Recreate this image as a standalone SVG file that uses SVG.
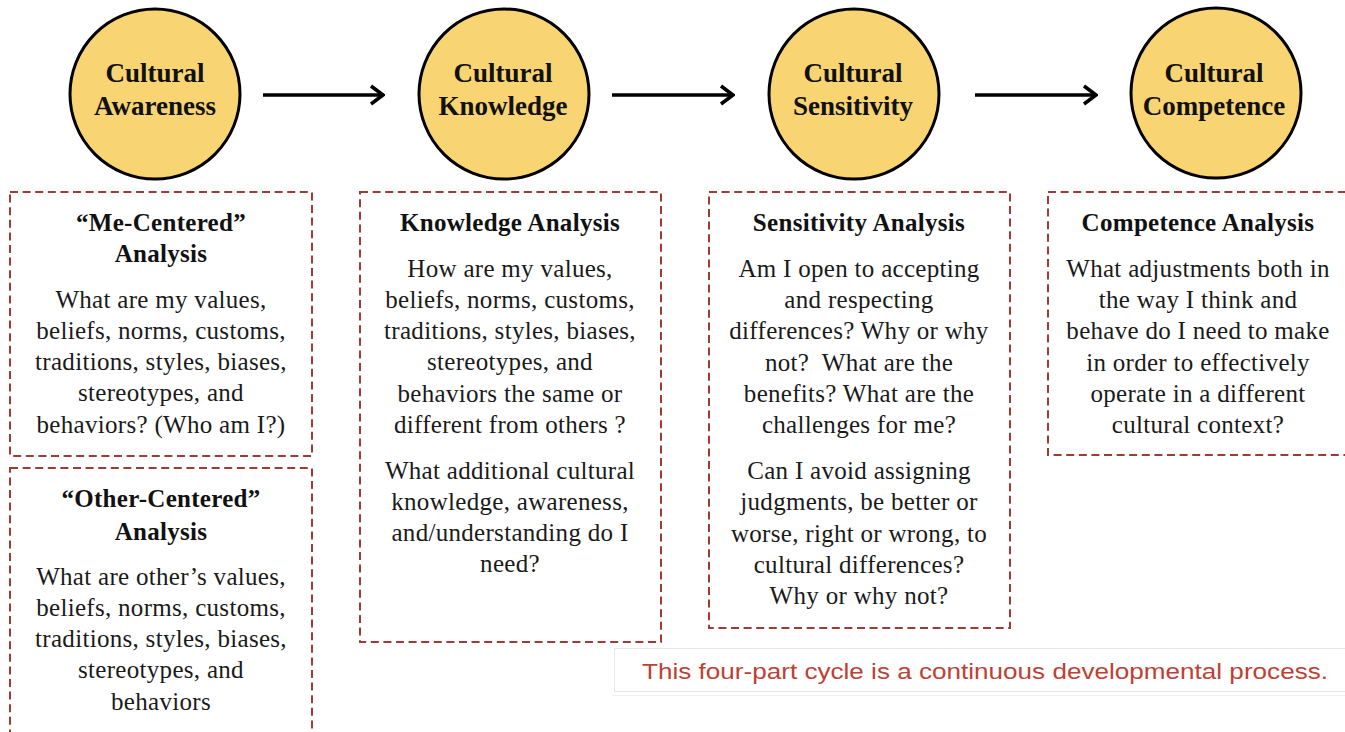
<svg xmlns="http://www.w3.org/2000/svg" width="1345" height="732" viewBox="0 0 1345 732">
<style>
.circ{fill:#F8D572;stroke:#000;stroke-width:3}
.ctext{font-family:"Liberation Serif","Times New Roman",serif;font-weight:bold;font-size:27px;fill:#111;text-anchor:middle}
.box{fill:none;stroke:#9E3B36;stroke-width:2;stroke-dasharray:8 4.6}
.hd{font-family:"Liberation Serif","Times New Roman",serif;font-weight:bold;font-size:25px;letter-spacing:0.3px;fill:#111;text-anchor:middle}
.bd{font-family:"Liberation Serif","Times New Roman",serif;font-size:25px;letter-spacing:0.3px;fill:#1a1a1a;text-anchor:middle}
.arrow{fill:none;stroke:#000;stroke-width:3.5;marker-end:url(#head)}
.note{font-family:"Liberation Sans",Arial,sans-serif;font-size:22px;fill:#BE3F33}
</style>
<defs>
<marker id="head" markerUnits="userSpaceOnUse" viewBox="0 0 16 22" refX="14" refY="11" markerWidth="16" markerHeight="22" orient="auto">
<path d="M2,2 L14,11 L2,20" fill="none" stroke="#000" stroke-width="3.5" stroke-linejoin="miter"/>
</marker>
</defs>
<rect width="1345" height="732" fill="#fff"/>

<g id="connectors">
<line class="arrow" x1="263" y1="95" x2="383" y2="95"/>
<line class="arrow" x1="612" y1="95" x2="733" y2="95"/>
<line class="arrow" x1="975" y1="95" x2="1096" y2="95"/>
</g>

<g id="awareness">
<circle class="circ" cx="155" cy="94" r="85"/>
<text class="ctext" x="155" y="82">Cultural</text>
<text class="ctext" x="155" y="115">Awareness</text>
</g>
<g id="knowledge">
<circle class="circ" cx="504" cy="94" r="85"/>
<text class="ctext" x="503" y="82">Cultural</text>
<text class="ctext" x="503" y="115">Knowledge</text>
</g>
<g id="sensitivity">
<circle class="circ" cx="854" cy="94" r="85"/>
<text class="ctext" x="853" y="82">Cultural</text>
<text class="ctext" x="853" y="115">Sensitivity</text>
</g>
<g id="competence">
<circle class="circ" cx="1216" cy="93" r="85"/>
<text class="ctext" x="1214" y="82">Cultural</text>
<text class="ctext" x="1214" y="115">Competence</text>
</g>

<g id="me-centered">
<rect class="box" x="10" y="192" width="302" height="264"/>
<text class="hd" x="161" y="231">“Me-Centered”</text>
<text class="hd" x="161" y="262">Analysis</text>
<text class="bd" x="161" y="308">What are my values,</text>
<text class="bd" x="161" y="339">beliefs, norms, customs,</text>
<text class="bd" x="161" y="370">traditions, styles, biases,</text>
<text class="bd" x="161" y="401">stereotypes, and</text>
<text class="bd" x="161" y="433">behaviors? (Who am I?)</text>
</g>

<g id="other-centered">
<rect class="box" x="10" y="468" width="302" height="280"/>
<text class="hd" x="161" y="507">“Other-Centered”</text>
<text class="hd" x="161" y="540">Analysis</text>
<text class="bd" x="161" y="585">What are other’s values,</text>
<text class="bd" x="161" y="616">beliefs, norms, customs,</text>
<text class="bd" x="161" y="647">traditions, styles, biases,</text>
<text class="bd" x="161" y="678">stereotypes, and</text>
<text class="bd" x="161" y="710">behaviors</text>
</g>

<g id="knowledge-analysis">
<rect class="box" x="360" y="192" width="301" height="450"/>
<text class="hd" x="510" y="231">Knowledge Analysis</text>
<text class="bd" x="510" y="277">How are my values,</text>
<text class="bd" x="510" y="308">beliefs, norms, customs,</text>
<text class="bd" x="510" y="339">traditions, styles, biases,</text>
<text class="bd" x="510" y="370">stereotypes, and</text>
<text class="bd" x="510" y="402">behaviors the same or</text>
<text class="bd" x="510" y="433">different from others ?</text>
<text class="bd" x="510" y="479">What additional cultural</text>
<text class="bd" x="510" y="510">knowledge, awareness,</text>
<text class="bd" x="510" y="541">and/understanding do I</text>
<text class="bd" x="510" y="572">need?</text>
</g>

<g id="sensitivity-analysis">
<rect class="box" x="709" y="192" width="301" height="436"/>
<text class="hd" x="859" y="231">Sensitivity Analysis</text>
<text class="bd" x="859" y="277">Am I open to accepting</text>
<text class="bd" x="859" y="308">and respecting</text>
<text class="bd" x="859" y="339">differences? Why or why</text>
<text class="bd" x="859" y="371" xml:space="preserve">not?  What are the</text>
<text class="bd" x="859" y="402">benefits? What are the</text>
<text class="bd" x="859" y="433">challenges for me?</text>
<text class="bd" x="859" y="479">Can I avoid assigning</text>
<text class="bd" x="859" y="510">judgments, be better or</text>
<text class="bd" x="859" y="542">worse, right or wrong, to</text>
<text class="bd" x="859" y="573">cultural differences?</text>
<text class="bd" x="859" y="604">Why or why not?</text>
</g>

<g id="competence-analysis">
<rect class="box" x="1048" y="192" width="310" height="263"/>
<text class="hd" x="1198" y="231">Competence Analysis</text>
<text class="bd" x="1198" y="277">What adjustments both in</text>
<text class="bd" x="1198" y="308">the way I think and</text>
<text class="bd" x="1198" y="339">behave do I need to make</text>
<text class="bd" x="1198" y="371">in order to effectively</text>
<text class="bd" x="1198" y="402">operate in a different</text>
<text class="bd" x="1198" y="433">cultural context?</text>
</g>

<g id="note">
<rect x="614.5" y="648.5" width="740" height="43" fill="#fff" stroke="#e6e6e6" stroke-width="1"/>
<line x1="612" y1="695.5" x2="1345" y2="695.5" stroke="#f0f0f0" stroke-width="1"/>
<text class="note" x="642" y="679" textLength="686" lengthAdjust="spacingAndGlyphs">This four-part cycle is a continuous developmental process.</text>
</g>
</svg>
